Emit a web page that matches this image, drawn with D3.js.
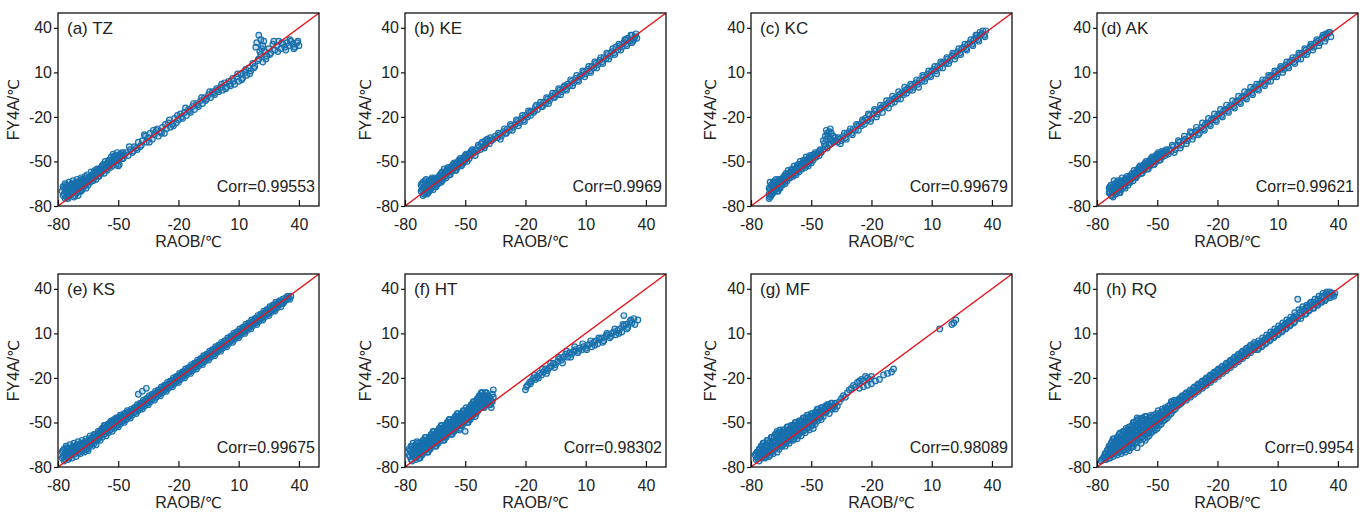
<!DOCTYPE html>
<html>
<head>
<meta charset="utf-8">
<script src="https://cdn.jsdelivr.net/npm/d3@7"></script>
<style>
  body { margin: 0; background: #fff; }
  svg { display: block; font-family: "Liberation Sans", Arial, sans-serif; }
</style>
</head>
<body>
<svg width="1368" height="514"></svg>
<script>
// ---- data: [RAOB, FY4A] in degC ----
var tickValues = [-80, -50, -20, 10, 40];
var axisDomain = [-80, 50];
var panelLabels = ["(a) TZ", "(b) KE", "(c) KC", "(d) AK", "(e) KS", "(f) HT", "(g) MF", "(h) RQ"];
var corrLabels = ["Corr=0.99553", "Corr=0.9969", "Corr=0.99679", "Corr=0.99621",
                  "Corr=0.99675", "Corr=0.98302", "Corr=0.98089", "Corr=0.9954"];

var ptsTZ = [[-78,-70],[-77,-72],[-77,-68],[-76,-74],[-76,-70],[-76,-66],[-75,-72],[-75,-68],[-75,-75],[-74,-70],[-74,-66],[-74,-73],[-73,-68],[-73,-71],[-73,-65],[-72,-74],[-72,-69],[-72,-66],[-71,-71],[-71,-67],[-71,-64],[-70,-69],[-70,-73],[-70,-65],[-69,-67],[-69,-70],[-69,-63],[-68,-65],[-68,-69],[-68,-62],[-67,-66],[-67,-63],[-66,-68],[-66,-64],[-66,-61],[-65,-62],[-65,-66],[-64,-60],[-64,-64],[-63,-62],[-63,-59],[-62,-61],[-62,-57],[-61,-59],[-61,-62],[-60,-56],[-60,-60],[-59,-58],[-59,-55],[-58,-56],[-58,-53],[-57,-55],[-57,-58],[-56,-52],[-56,-55],[-55,-53],[-55,-50],[-54,-54],[-54,-51],[-53,-49],[-53,-53],[-52,-50],[-52,-47],[-51,-52],[-51,-48],[-50,-49],[-50,-46],[-50,-53],[-49,-47],[-49,-45],[-48,-48],[-48,-44],[-47,-46],
  [-46,-44],[-45,-46],[-44,-42],[-43,-44],[-42,-40],[-41,-41],[-40,-37],[-39,-40],[-38,-36],[-37,-32],[-36,-37],[-35,-34],[-34,-31],[-33,-35],[-32,-32],[-31,-29],[-30,-33],[-29,-30],[-28,-27],[-27,-31],[-26,-28],[-25,-24],[-24,-27],[-23,-25],[-22,-21],[-21,-24],[-20,-22],[-19,-18],[-18,-21],[-17,-17],[-16,-19],[-15,-15],[-14,-17],[-13,-13],[-12,-15],[-11,-11],[-10,-13],[-9,-9],[-8,-11],[-7,-7],[-6,-8],[-5,-5],[-4,-7],[-3,-3],[-2,-5],[-1,-1],[0,-3],[1,0],[2,-2],[3,3],[4,0],[5,4],[6,1],[7,6],[8,2],[9,7],[10,4],[11,9],[12,6],[13,10],[14,8],[15,13],[16,11],[17,16],[18,14],[19,30],[20,35],[21,32],[22,28],[20,19],[21,22],[22,17],[23,24],[24,21],[25,26],[26,23],[27,29],[28,25],[29,28],[30,31],[31,26],[32,29],[33,27],[34,30],[35,28],[36,31],[37,29],[38,27],[39,30],[40,28]];
var ptsTZb = [[-77.5,-67],[-77.5,-73],[-76.5,-69],[-76.5,-65],[-76.5,-75],[-75.5,-67],[-75.5,-71],[-74.5,-64],[-74.5,-69],[-74.5,-74],[-73.5,-66],[-73.5,-72],[-72.5,-63],[-72.5,-67],[-72.5,-70],[-71.5,-65],[-71.5,-69],[-71.5,-73],[-70.5,-62],[-70.5,-67],[-70.5,-71],[-69.5,-64],[-69.5,-68],[-68.5,-61],[-68.5,-66],[-68.5,-70],[-67.5,-62],[-67.5,-68],[-66.5,-60],[-66.5,-63],[-66.5,-66],[-65.5,-59],[-65.5,-64],[-64.5,-61],[-64.5,-63],[-63.5,-57],[-63.5,-61],[-62.5,-59],[-62.5,-63],[-61.5,-56],[-61.5,-60],[-60.5,-58],[-60.5,-55],[-59.5,-56],[-59.5,-60],[-58.5,-54],[-58.5,-58],[-57.5,-52],[-57.5,-56],[-56.5,-54],[-56.5,-50],[-55.5,-52],[-55.5,-56],[-54.5,-49],[-54.5,-53],[-53.5,-51],[-53.5,-47],[-52.5,-49],[-52.5,-45],[-51.5,-50],[-51.5,-46],[-50.5,-47],[-50.5,-44],[-49.5,-48],[-49.5,-52],[-48.5,-46],[-47.5,-44],[-47.5,-48],
  [-44.5,-40],[-42.5,-43],[-40.5,-42],[-38.5,-39],[-36.5,-33],[-34.5,-37],[-32.5,-29],[-30.5,-28],[-28.5,-31],[-26.5,-25],[-24.5,-22],[-22.5,-26],[-20.5,-19],[-18.5,-20],[-16.5,-14],[-14.5,-16],[-12.5,-11],[-10.5,-12],[-8.5,-7],[-6.5,-9],[-4.5,-3],[-2.5,-4],[-0.5,-2],[1.5,2],[3.5,-1],[5.5,2],[7.5,4],[9.5,9],[11.5,5],[13.5,12],[15.5,9],[17.5,13],[19.5,18],[21.5,26],[23.5,19],[25.5,22],[27.5,31],[29.5,24],[31.5,30],[33.5,25],[35.5,32],[37.5,26],[39.5,31],[18.5,27],[20.5,24],[22.5,31]];

var ptsKE = [[-72,-70],[-72,-66],[-71,-73],[-71,-68],[-71,-64],[-70,-71],[-70,-67],[-70,-63],[-69,-69],[-69,-65],[-69,-72],[-68,-67],[-68,-63],[-68,-70],[-67,-65],[-67,-68],[-67,-62],[-66,-66],[-66,-63],[-66,-69],[-65,-64],[-65,-61],[-65,-67],[-64,-62],[-64,-65],[-63,-60],[-63,-63],[-62,-61],[-62,-58],[-62,-64],[-61,-59],[-61,-62],[-60,-57],[-60,-60],[-59,-58],[-59,-55],[-58,-56],[-58,-59],[-57,-54],[-57,-57],[-56,-55],[-56,-52],[-55,-53],[-55,-56],[-54,-51],[-54,-54],[-53,-52],[-53,-49],[-52,-50],[-52,-53],[-51,-48],[-51,-51],[-50,-49],[-50,-46],[-49,-47],[-49,-50],[-48,-45],[-48,-48],[-47,-46],[-47,-43],[-46,-44],[-45,-42],[-45,-46],[-44,-43],[-43,-40],[-42,-38],[-41,-40],[-40,-36],[-40,-39],[-39,-35],[-38,-38],[-37,-36],[-36,-35],[-35,-33],
  [-34,-34],[-33,-32],[-32,-33],[-31,-30],[-30,-31],[-29,-28],[-28,-29],[-27,-26],[-26,-27],[-25,-25],[-24,-23],[-23,-24],[-22,-21],[-21,-22],[-20,-19],[-19,-20],[-18,-17],[-17,-16],[-16,-17],[-15,-13],[-14,-15],[-13,-12],[-12,-13],[-11,-10],[-10,-11],[-9,-8],[-8,-9],[-7,-6],[-6,-7],[-5,-4],[-4,-5],[-3,-2],[-2,-3],[-1,0],[0,-1],[1,2],[2,1],[3,4],[4,3],[5,6],[6,5],[7,7],[8,8],[9,10],[10,9],[11,12],[12,11],[13,14],[14,13],[15,16],[16,15],[17,18],[18,17],[19,20],[20,19],[21,22],[22,21],[23,24],[24,23],[25,27],[26,25],[27,28],[28,27],[29,30],[30,29],[31,33],[32,31],[33,35],[34,32],[35,36],[33,30],[30,32]];
var ptsKEb = [[-71.5,-69],[-71.5,-65],[-70.5,-72],[-70.5,-68],[-69.5,-66],[-69.5,-62],[-68.5,-71],[-68.5,-65],[-67.5,-69],[-67.5,-63],[-66.5,-67],[-66.5,-61],[-65.5,-66],[-65.5,-62],[-64.5,-63],[-64.5,-67],[-63.5,-61],[-63.5,-65],[-62.5,-59],[-62.5,-62],[-61.5,-57],[-61.5,-63],[-60.5,-59],[-60.5,-55],[-59.5,-57],[-59.5,-61],[-58.5,-54],[-58.5,-57],[-57.5,-55],[-57.5,-59],[-56.5,-53],[-56.5,-56],[-55.5,-51],[-55.5,-54],[-54.5,-52],[-54.5,-56],[-53.5,-50],[-53.5,-53],[-52.5,-48],[-52.5,-51],[-51.5,-49],[-51.5,-52],[-50.5,-47],[-50.5,-50],[-49.5,-45],[-49.5,-48],[-48.5,-46],[-47.5,-44],[-46.5,-42],[-45.5,-44],[-43.5,-39],[-42.5,-42],[-41.5,-37],[-40.5,-41],[-39.5,-38],[-38.5,-36],[-37.5,-34],
  [-33.5,-31],[-32.5,-35],[-30.5,-28],[-29.5,-31],[-27.5,-25],[-26.5,-29],[-24.5,-22],[-23.5,-26],[-21.5,-19],[-20.5,-23],[-18.5,-16],[-17.5,-19],[-15.5,-16],[-14.5,-12],[-12.5,-10],[-11.5,-13],[-9.5,-7],[-8.5,-11],[-6.5,-4],[-5.5,-7],[-3.5,-1],[-2.5,-5],[-0.5,1],[0.5,-2],[2.5,5],[3.5,1],[5.5,8],[6.5,4],[8.5,11],[9.5,7],[11.5,14],[12.5,10],[14.5,17],[15.5,13],[17.5,20],[18.5,16],[20.5,23],[21.5,19],[23.5,26],[24.5,22],[26.5,29],[27.5,25],[29.5,32],[30.5,28],[32.5,35],[33.5,31],[34.5,34],[35.5,33]];

var ptsKC = [[-71,-72],[-71,-68],[-71,-75],[-70,-70],[-70,-66],[-70,-73],[-69,-68],[-69,-64],[-69,-71],[-68,-66],[-68,-69],[-68,-63],[-67,-67],[-67,-64],[-67,-70],[-66,-65],[-66,-62],[-66,-68],[-65,-63],[-65,-66],[-64,-61],[-64,-64],[-63,-62],[-63,-59],[-63,-65],[-62,-60],[-62,-63],[-61,-58],[-61,-61],[-60,-59],[-60,-56],[-59,-57],[-59,-60],[-58,-55],[-58,-58],[-57,-56],[-57,-53],[-56,-54],[-56,-57],[-55,-52],[-55,-55],[-54,-53],[-54,-50],[-53,-51],[-53,-54],[-52,-49],[-52,-52],[-51,-50],[-51,-47],[-50,-48],[-50,-51],[-49,-46],[-49,-49],[-48,-47],[-48,-44],[-47,-45],[-46,-43],[-46,-46],[-45,-44],
  [-44,-36],[-43,-33],[-42,-31],[-41,-30],[-40,-31],[-39,-33],[-38,-34],[-44,-42],[-43,-40],[-42,-41],[-41,-39],[-40,-38],[-39,-37],[-38,-36],
  [-37,-37],[-36,-35],[-35,-36],[-34,-33],[-33,-34],[-32,-31],[-31,-30],[-30,-31],[-29,-28],[-28,-29],[-27,-26],[-26,-25],[-25,-26],[-24,-23],[-23,-21],[-22,-22],[-21,-19],[-20,-21],[-19,-18],[-18,-16],[-17,-18],[-16,-15],[-15,-14],[-14,-12],[-13,-13],[-12,-11],[-11,-9],[-10,-11],[-9,-8],[-8,-7],[-7,-8],[-6,-5],[-5,-4],[-4,-5],[-3,-2],[-2,-1],[-1,-2],[0,1],[1,0],[2,3],[3,2],[4,5],[5,4],[6,7],[7,6],[8,9],[9,8],[10,11],[11,12],[12,11],[13,14],[14,13],[15,16],[16,17],[17,16],[18,19],[19,18],[20,21],[21,22],[22,21],[23,24],[24,23],[25,26],[26,27],[27,26],[28,29],[29,30],[30,29],[31,32],[32,33],[33,32],[34,35],[35,36],[36,35],[37,38],[34,37],[32,35]];
var ptsKCb = [[-70.5,-74],[-70.5,-69],[-70.5,-64],[-69.5,-72],[-69.5,-67],[-68.5,-70],[-68.5,-64],[-67.5,-68],[-67.5,-62],[-66.5,-66],[-66.5,-70],[-65.5,-64],[-65.5,-68],[-64.5,-62],[-64.5,-66],[-63.5,-60],[-63.5,-64],[-62.5,-58],[-62.5,-62],[-61.5,-60],[-61.5,-56],[-60.5,-58],[-60.5,-61],[-59.5,-55],[-59.5,-59],[-58.5,-57],[-58.5,-53],[-57.5,-55],[-57.5,-59],[-56.5,-52],[-56.5,-56],[-55.5,-54],[-55.5,-50],[-54.5,-52],[-54.5,-55],[-53.5,-49],[-53.5,-52],[-52.5,-51],[-52.5,-47],[-51.5,-49],[-51.5,-53],[-50.5,-46],[-50.5,-50],[-49.5,-48],[-48.5,-45],[-47.5,-47],[-46.5,-44],[-45.5,-42],[-43.5,-38],[-42.5,-35],[-41.5,-33],[-40.5,-35],[-39.5,-36],[-42.5,-29],[-40.5,-28],
  [-36.5,-34],[-35.5,-38],[-33.5,-31],[-32.5,-35],[-30.5,-28],[-29.5,-32],[-27.5,-25],[-26.5,-29],[-24.5,-22],[-23.5,-25],[-21.5,-18],[-20.5,-23],[-18.5,-15],[-17.5,-20],[-15.5,-12],[-14.5,-17],[-12.5,-9],[-11.5,-14],[-9.5,-6],[-8.5,-10],[-6.5,-3],[-5.5,-8],[-3.5,0],[-2.5,-4],[-0.5,2],[0.5,-2],[2.5,5],[3.5,0],[5.5,8],[6.5,4],[8.5,11],[9.5,7],[11.5,14],[12.5,9],[14.5,17],[15.5,13],[17.5,20],[18.5,16],[20.5,23],[21.5,19],[23.5,26],[24.5,22],[26.5,29],[27.5,25],[29.5,32],[30.5,28],[32.5,35],[33.5,31],[35.5,38],[36.5,34]];

var ptsAK = [[-74,-71],[-74,-68],[-73,-73],[-73,-69],[-73,-66],[-72,-71],[-72,-67],[-72,-74],[-71,-69],[-71,-65],[-71,-72],[-70,-67],[-70,-70],[-70,-64],[-69,-68],[-69,-65],[-69,-71],[-68,-66],[-68,-63],[-68,-69],[-67,-64],[-67,-67],[-66,-65],[-66,-62],[-66,-68],[-65,-63],[-65,-60],[-64,-64],[-64,-61],[-63,-62],[-63,-59],[-62,-60],[-62,-63],[-61,-58],[-61,-61],[-60,-59],[-60,-56],[-59,-57],[-59,-54],[-58,-58],[-58,-55],[-57,-56],[-57,-53],[-56,-54],[-56,-51],[-55,-55],[-55,-52],[-54,-53],[-54,-50],[-53,-51],[-53,-48],[-52,-52],[-52,-49],[-51,-50],[-51,-47],[-50,-48],[-50,-45],[-49,-49],[-49,-46],[-48,-47],[-48,-44],[-47,-45],[-46,-46],[-46,-43],[-45,-44],[-44,-42],
  [-43,-43],[-42,-40],[-41,-42],[-40,-39],[-39,-37],[-38,-39],[-37,-36],[-36,-35],[-35,-36],[-34,-33],[-33,-31],[-32,-33],[-31,-30],[-30,-29],[-29,-31],[-28,-27],[-27,-28],[-26,-25],[-25,-24],[-24,-25],[-23,-22],[-22,-21],[-21,-22],[-20,-19],[-19,-18],[-18,-19],[-17,-16],[-16,-15],[-15,-16],[-14,-13],[-13,-12],[-12,-13],[-11,-10],[-10,-9],[-9,-10],[-8,-7],[-7,-6],[-6,-7],[-5,-4],[-4,-3],[-3,-4],[-2,-1],[-1,0],[0,-1],[1,2],[2,3],[3,2],[4,5],[5,4],[6,7],[7,8],[8,7],[9,10],[10,9],[11,12],[12,13],[13,12],[14,15],[15,14],[16,17],[17,18],[18,17],[19,20],[20,19],[21,22],[22,23],[23,22],[24,25],[25,24],[26,27],[27,28],[28,27],[29,30],[30,31],[31,30],[32,33],[33,34],[34,33],[35,36],[36,37],[34,36]];
var ptsAKb = [[-73.5,-71],[-73.5,-67],[-72.5,-73],[-72.5,-69],[-71.5,-67],[-71.5,-63],[-70.5,-72],[-70.5,-66],[-69.5,-69],[-69.5,-63],[-68.5,-67],[-68.5,-71],[-67.5,-65],[-67.5,-61],[-66.5,-67],[-66.5,-63],[-65.5,-65],[-65.5,-61],[-64.5,-62],[-64.5,-66],[-63.5,-60],[-63.5,-64],[-62.5,-58],[-62.5,-61],[-61.5,-60],[-61.5,-56],[-60.5,-57],[-60.5,-61],[-59.5,-55],[-59.5,-59],[-58.5,-53],[-58.5,-56],[-57.5,-54],[-57.5,-58],[-56.5,-52],[-56.5,-56],[-55.5,-50],[-55.5,-53],[-54.5,-51],[-54.5,-55],[-53.5,-49],[-53.5,-53],[-52.5,-47],[-52.5,-50],[-51.5,-48],[-51.5,-52],[-50.5,-46],[-50.5,-50],[-49.5,-44],[-49.5,-47],[-48.5,-45],[-48.5,-49],[-47.5,-43],[-47.5,-47],[-46.5,-44],[-45.5,-42],[-44.5,-45],
  [-42.5,-39],[-41.5,-44],[-39.5,-36],[-38.5,-41],[-36.5,-33],[-35.5,-38],[-33.5,-30],[-32.5,-35],[-30.5,-27],[-29.5,-32],[-27.5,-24],[-26.5,-29],[-24.5,-21],[-23.5,-26],[-21.5,-18],[-20.5,-23],[-18.5,-15],[-17.5,-20],[-15.5,-12],[-14.5,-17],[-12.5,-9],[-11.5,-14],[-9.5,-6],[-8.5,-11],[-6.5,-3],[-5.5,-8],[-3.5,0],[-2.5,-5],[-0.5,2],[0.5,-2],[2.5,5],[3.5,1],[5.5,8],[6.5,4],[8.5,11],[9.5,7],[11.5,14],[12.5,10],[14.5,17],[15.5,13],[17.5,20],[18.5,16],[20.5,23],[21.5,19],[23.5,26],[24.5,22],[26.5,29],[27.5,25],[29.5,32],[30.5,28],[32.5,35],[33.5,31],[35.5,37],[36.5,34]];

var ptsKS = [[-78,-74],[-78,-70],[-77,-76],[-77,-72],[-77,-68],[-76,-73],[-76,-70],[-76,-66],[-75,-75],[-75,-71],[-75,-68],[-74,-72],[-74,-69],[-74,-65],[-73,-74],[-73,-70],[-73,-67],[-72,-71],[-72,-68],[-72,-64],[-71,-73],[-71,-69],[-71,-66],[-70,-70],[-70,-67],[-70,-63],[-69,-71],[-69,-68],[-69,-65],[-68,-69],[-68,-66],[-68,-62],[-67,-70],[-67,-67],[-67,-64],[-66,-68],[-66,-65],[-66,-61],[-65,-66],[-65,-63],[-65,-69],[-64,-65],[-64,-62],[-64,-59],[-63,-66],[-63,-63],[-63,-60],[-62,-64],[-62,-61],[-62,-58],[-61,-62],[-61,-59],[-61,-65],[-60,-61],[-60,-58],[-60,-56],[-59,-62],[-59,-59],[-59,-56],[-58,-60],[-58,-57],[-58,-54],[-57,-58],[-57,-55],[-57,-52],[-56,-59],[-56,-56],[-56,-53],[-55,-57],[-55,-54],[-55,-51],[-54,-55],[-54,-52],[-54,-50],[-53,-56],[-53,-53],[-53,-50],[-52,-54],[-52,-51],[-52,-48],[-51,-52],[-51,-49],[-51,-47],[-50,-53],[-50,-50],[-50,-47],[-49,-51],[-49,-48],[-49,-45],[-48,-49],[-48,-46],[-47,-50],[-47,-47],[-47,-44],[-46,-48],[-46,-45],[-45,-46],[-45,-43],[-44,-47],[-44,-44],[-43,-45],[-43,-42],[-42,-43],[-42,-40],[-41,-44],[-41,-41],[-40,-42],[-40,-39],[-40,-31],[-38,-29],[-36,-27],[-39,-40],[-39,-37],[-38,-41],[-38,-38],[-37,-39],[-37,-36],[-36,-37],[-36,-34],[-35,-38],[-35,-35],[-34,-36],[-34,-33],[-33,-34],[-33,-31],[-32,-35],[-32,-32],[-31,-33],[-31,-30],[-30,-31],[-30,-28],[-29,-32],[-29,-29],[-28,-30],[-28,-27],[-27,-28],[-27,-25],[-26,-29],[-26,-26],[-25,-27],[-25,-24],[-24,-25],[-24,-22],[-23,-26],[-23,-23],[-22,-24],[-22,-21],[-21,-22],[-21,-19],[-20,-23],[-20,-20],[-19,-21],[-19,-18],[-18,-19],[-18,-16],[-17,-20],[-17,-17],[-16,-18],[-16,-15],[-15,-16],[-15,-13],[-14,-17],[-14,-14],[-13,-15],[-13,-12],[-12,-13],[-12,-10],[-11,-14],[-11,-11],[-10,-12],[-10,-9],[-9,-10],[-9,-7],[-8,-11],[-8,-8],[-7,-9],[-7,-6],[-6,-7],[-6,-4],[-5,-8],[-5,-5],[-4,-6],[-4,-3],[-3,-4],[-3,-1],[-2,-5],[-2,-2],[-1,-3],[-1,0],[0,-1],[0,2],[1,-2],[1,1],[2,0],[2,3],[3,2],[3,5],[4,1],[4,4],[5,3],[5,6],[6,5],[6,8],[7,4],[7,7],[8,6],[8,9],[9,8],[9,11],[10,7],[10,10],[11,9],[11,12],[12,11],[12,14],[13,10],[13,13],[14,12],[14,15],[15,14],[15,17],[16,13],[16,16],[17,15],[17,18],[18,17],[18,20],[19,16],[19,19],[20,18],[20,21],[21,20],[21,23],[22,19],[22,22],[23,21],[23,24],[24,23],[24,26],[25,22],[25,25],[26,24],[26,27],[27,26],[27,29],[28,25],[28,28],[29,27],[29,30],[30,29],[30,31],[31,28],[31,31],[32,30],[32,33],[33,32],[34,33],[35,34],[36,35]];
var ptsKSb = [[-77.5,-73],[-77.5,-69],[-76.5,-75],[-76.5,-71],[-75.5,-73],[-75.5,-67],[-74.5,-70],[-74.5,-74],[-73.5,-68],[-73.5,-72],[-72.5,-66],[-72.5,-70],[-71.5,-68],[-71.5,-71],[-70.5,-65],[-70.5,-69],[-69.5,-67],[-69.5,-70],[-68.5,-64],[-68.5,-68],[-67.5,-66],[-67.5,-69],[-66.5,-63],[-66.5,-67],[-65.5,-64],[-65.5,-68],[-64.5,-61],[-64.5,-64],[-63.5,-62],[-63.5,-65],[-62.5,-60],[-62.5,-63],[-61.5,-58],[-61.5,-61],[-60.5,-59],[-60.5,-62],[-59.5,-57],[-59.5,-60],[-58.5,-55],[-58.5,-58],[-57.5,-54],[-57.5,-57],[-56.5,-55],[-56.5,-52],[-55.5,-53],[-55.5,-56],[-54.5,-51],[-54.5,-54],[-53.5,-52],[-53.5,-49],[-52.5,-50],[-52.5,-53],[-51.5,-48],[-51.5,-51],[-50.5,-49],[-50.5,-52],[-49.5,-47],[-49.5,-50],[-48.5,-45],[-48.5,-48],[-47.5,-46],[-47.5,-49],[-46.5,-44],[-46.5,-47],[-45.5,-45],[-45.5,-42],[-44.5,-43],[-44.5,-46],[-43.5,-41],[-43.5,-44],[-42.5,-42],[-41.5,-40],[-41.5,-43],[-40.5,-38],[-40.5,-41],[-39.5,-39],[-38.5,-37],[-38.5,-40],[-37.5,-35],[-37.5,-38],[-36.5,-36],[-35.5,-34],[-35.5,-37],[-34.5,-32],[-34.5,-35],[-33.5,-33],[-32.5,-31],[-32.5,-34],[-31.5,-29],[-31.5,-32],[-30.5,-30],[-29.5,-28],[-29.5,-31],[-28.5,-26],[-28.5,-29],[-27.5,-27],[-26.5,-25],[-26.5,-28],[-25.5,-23],[-25.5,-26],[-24.5,-24],[-23.5,-22],[-23.5,-25],[-22.5,-20],[-22.5,-23],[-21.5,-21],[-20.5,-19],[-20.5,-22],[-19.5,-17],[-19.5,-20],[-18.5,-18],[-17.5,-16],[-17.5,-19],[-16.5,-14],[-16.5,-17],[-15.5,-15],[-14.5,-13],[-14.5,-16],[-13.5,-11],[-13.5,-14],[-12.5,-12],[-11.5,-10],[-11.5,-13],[-10.5,-8],[-10.5,-11],[-9.5,-9],[-8.5,-7],[-8.5,-10],[-7.5,-5],[-7.5,-8],[-6.5,-6],[-5.5,-4],[-5.5,-7],[-4.5,-2],[-4.5,-5],[-3.5,-3],[-2.5,-1],[-2.5,-4],[-1.5,1],[-1.5,-2],[-0.5,0],[0.5,2],[0.5,-1],[1.5,4],[1.5,1],[2.5,2],[3.5,5],[3.5,2],[4.5,7],[4.5,4],[5.5,5],[6.5,8],[6.5,5],[7.5,10],[7.5,7],[8.5,8],[9.5,11],[9.5,8],[10.5,13],[10.5,10],[11.5,11],[12.5,14],[12.5,11],[13.5,16],[13.5,13],[14.5,14],[15.5,17],[15.5,14],[16.5,19],[16.5,16],[17.5,17],[18.5,20],[18.5,17],[19.5,22],[19.5,19],[20.5,20],[21.5,23],[21.5,20],[22.5,25],[22.5,22],[23.5,23],[24.5,26],[24.5,23],[25.5,28],[25.5,25],[26.5,26],[27.5,29],[27.5,26],[28.5,31],[28.5,28],[29.5,29],[30.5,32],[31.5,30],[32.5,31],[33.5,34],[34.5,35],[35.5,33]];

var ptsHT = [[-78,-68],[-78,-72],[-77,-66],[-77,-70],[-77,-75],[-76,-68],[-76,-72],[-76,-64],[-75,-70],[-75,-74],[-75,-66],[-74,-68],[-74,-72],[-74,-63],[-73,-66],[-73,-70],[-73,-74],[-72,-64],[-72,-68],[-72,-72],[-71,-62],[-71,-66],[-71,-70],[-70,-64],[-70,-68],[-70,-60],[-69,-62],[-69,-66],[-69,-70],[-68,-60],[-68,-64],[-68,-68],[-67,-58],[-67,-62],[-67,-66],[-66,-60],[-66,-64],[-66,-56],[-65,-58],[-65,-62],[-65,-66],[-64,-56],[-64,-60],[-64,-64],[-63,-54],[-63,-58],[-63,-62],[-62,-56],[-62,-60],[-62,-52],[-61,-54],[-61,-58],[-61,-62],[-60,-52],[-60,-56],[-60,-60],[-59,-50],[-59,-54],[-59,-58],[-58,-52],[-58,-56],[-58,-48],[-57,-50],[-57,-54],[-57,-58],[-56,-48],[-56,-52],[-56,-56],[-55,-46],[-55,-50],[-55,-54],[-54,-48],[-54,-52],[-54,-44],[-53,-46],[-53,-50],[-53,-55],[-52,-44],[-52,-48],[-52,-52],[-51,-42],[-51,-46],[-51,-50],[-50,-44],[-50,-48],[-50,-56],[-49,-42],[-49,-46],[-49,-50],[-48,-40],[-48,-44],[-48,-48],[-47,-38],[-47,-42],[-47,-46],[-46,-36],[-46,-40],[-46,-44],[-45,-38],[-45,-42],[-45,-46],[-44,-34],[-44,-38],[-44,-42],[-43,-32],[-43,-36],[-43,-40],[-42,-30],[-42,-34],[-42,-38],[-41,-32],[-41,-36],[-41,-40],[-40,-30],[-40,-34],[-40,-38],[-39,-32],[-39,-36],[-38,-34],[-38,-38],[-37,-36],[-37,-40],[-36,-33],[-36,-28],
  [-20,-28],[-19,-25],[-18,-23],[-17,-22],[-16,-20],[-15,-21],[-14,-19],[-13,-17],[-12,-18],[-11,-16],[-10,-14],[-9,-15],[-8,-13],[-7,-12],[-6,-10],[-5,-11],[-4,-9],[-3,-7],[-2,-8],[-1,-6],[0,-4],[1,-6],[2,-3],[3,-4],[4,-2],[5,-1],[6,-3],[7,0],[8,-1],[9,1],[10,0],[11,2],[12,3],[13,1],[14,4],[15,5],[16,3],[17,6],[18,7],[19,5],[20,8],[21,9],[22,7],[23,10],[24,11],[25,9],[26,12],[27,13],[28,11],[29,15],[30,16],[31,14],[29,22],[32,18],[33,17],[34,20],[36,19]];
var ptsHTb = [[-77.5,-69],[-77.5,-73],[-76.5,-66],[-76.5,-71],[-76.5,-76],[-75.5,-68],[-75.5,-72],[-74.5,-65],[-74.5,-70],[-74.5,-75],[-73.5,-64],[-73.5,-68],[-73.5,-72],[-72.5,-66],[-72.5,-70],[-72.5,-74],[-71.5,-64],[-71.5,-68],[-71.5,-72],[-70.5,-62],[-70.5,-66],[-70.5,-70],[-69.5,-60],[-69.5,-64],[-69.5,-68],[-68.5,-62],[-68.5,-66],[-68.5,-70],[-67.5,-60],[-67.5,-64],[-67.5,-68],[-66.5,-58],[-66.5,-62],[-66.5,-66],[-65.5,-56],[-65.5,-60],[-65.5,-64],[-64.5,-58],[-64.5,-62],[-64.5,-66],[-63.5,-56],[-63.5,-60],[-63.5,-64],[-62.5,-54],[-62.5,-58],[-62.5,-62],[-61.5,-52],[-61.5,-56],[-61.5,-60],[-60.5,-54],[-60.5,-58],[-60.5,-62],[-59.5,-52],[-59.5,-56],[-59.5,-60],[-58.5,-50],[-58.5,-54],[-58.5,-58],[-57.5,-48],[-57.5,-52],[-57.5,-56],[-56.5,-50],[-56.5,-54],[-56.5,-58],[-55.5,-48],[-55.5,-52],[-55.5,-56],[-54.5,-46],[-54.5,-50],[-54.5,-54],[-53.5,-44],[-53.5,-48],[-53.5,-52],[-52.5,-46],[-52.5,-50],[-52.5,-54],[-51.5,-44],[-51.5,-48],[-51.5,-52],[-50.5,-42],[-50.5,-46],[-50.5,-50],[-49.5,-40],[-49.5,-44],[-49.5,-48],[-48.5,-42],[-48.5,-46],[-48.5,-50],[-47.5,-40],[-47.5,-44],[-47.5,-48],[-46.5,-38],[-46.5,-42],[-46.5,-46],[-45.5,-36],[-45.5,-40],[-45.5,-44],[-44.5,-36],[-44.5,-40],[-44.5,-44],[-43.5,-34],[-43.5,-38],[-43.5,-42],[-42.5,-32],[-42.5,-36],[-42.5,-40],[-41.5,-30],[-41.5,-34],[-41.5,-38],[-40.5,-32],[-40.5,-36],[-40.5,-40],[-39.5,-30],[-39.5,-34],[-39.5,-38],[-38.5,-32],[-38.5,-36],[-37.5,-34],[-37.5,-38],[-36.5,-31],[-36.5,-36],
  [-19.5,-26],[-17.5,-24],[-15.5,-18],[-13.5,-20],[-11.5,-14],[-9.5,-17],[-7.5,-10],[-5.5,-13],[-3.5,-6],[-1.5,-10],[0.5,-2],[2.5,-6],[4.5,1],[6.5,-2],[8.5,3],[10.5,-1],[12.5,5],[14.5,2],[16.5,7],[18.5,4],[20.5,10],[22.5,8],[24.5,13],[26.5,10],[28.5,16],[30.5,13],[32.5,19],[34.5,16]];

var ptsMF = [[-78,-72],[-77,-70],[-77,-74],[-76,-68],[-76,-72],[-76,-76],[-75,-66],[-75,-70],[-75,-74],[-74,-68],[-74,-72],[-74,-64],[-73,-66],[-73,-70],[-73,-74],[-72,-62],[-72,-67],[-72,-71],[-71,-64],[-71,-69],[-71,-73],[-70,-60],[-70,-65],[-70,-70],[-69,-63],[-69,-67],[-69,-71],[-68,-58],[-68,-62],[-68,-66],[-67,-56],[-67,-61],[-67,-65],[-67,-70],[-66,-59],[-66,-63],[-66,-68],[-65,-57],[-65,-61],[-65,-66],[-64,-55],[-64,-59],[-64,-64],[-63,-57],[-63,-62],[-63,-66],[-62,-53],[-62,-58],[-62,-62],[-61,-55],[-61,-60],[-61,-64],[-60,-52],[-60,-56],[-60,-60],[-59,-54],[-59,-58],[-59,-62],[-58,-50],[-58,-55],[-58,-59],[-57,-52],[-57,-56],[-57,-61],[-56,-49],[-56,-53],[-56,-57],[-55,-51],[-55,-55],[-55,-59],[-54,-47],[-54,-52],[-54,-56],[-53,-49],[-53,-53],[-53,-57],[-52,-45],[-52,-50],[-52,-54],[-51,-47],[-51,-51],[-51,-55],[-50,-44],[-50,-48],[-50,-52],[-49,-46],[-49,-50],[-49,-54],[-48,-43],[-48,-47],[-48,-51],[-47,-41],[-47,-45],[-47,-49],[-46,-43],[-46,-47],[-45,-40],[-45,-44],[-45,-48],[-44,-42],[-44,-46],[-43,-39],[-43,-43],[-42,-38],[-42,-41],[-41,-40],[-41,-44],[-40,-37],[-40,-41],[-39,-39],[-38,-37],[-38,-41],[-37,-39],
  [-36,-36],[-35,-34],[-34,-32],[-33,-33],[-32,-30],[-31,-28],[-30,-27],[-29,-25],[-28,-26],[-27,-23],[-26,-22],[-25,-21],[-24,-22],[-23,-19],[-22,-20],[-21,-21],[-20,-19],[-26,-27],[-24,-26],[-22,-25],[-20,-24],[-18,-22],[-16,-21],[-14,-18],[-12,-17],[-10,-16],[-9,-14],[14,13],[21,17],[22,19],[20,16]];
var ptsMFb = [[-77.5,-71],[-77.5,-75],[-76.5,-70],[-76.5,-74],[-75.5,-68],[-75.5,-72],[-74.5,-66],[-74.5,-70],[-74.5,-74],[-73.5,-64],[-73.5,-68],[-73.5,-72],[-72.5,-65],[-72.5,-69],[-72.5,-73],[-71.5,-62],[-71.5,-66],[-71.5,-70],[-70.5,-63],[-70.5,-67],[-70.5,-72],[-69.5,-60],[-69.5,-65],[-69.5,-69],[-68.5,-60],[-68.5,-64],[-68.5,-68],[-67.5,-58],[-67.5,-63],[-67.5,-67],[-66.5,-57],[-66.5,-61],[-66.5,-66],[-65.5,-55],[-65.5,-59],[-65.5,-63],[-64.5,-57],[-64.5,-61],[-64.5,-66],[-63.5,-55],[-63.5,-59],[-63.5,-64],[-62.5,-56],[-62.5,-60],[-62.5,-64],[-61.5,-53],[-61.5,-57],[-61.5,-62],[-60.5,-54],[-60.5,-58],[-60.5,-62],[-59.5,-52],[-59.5,-56],[-59.5,-60],[-58.5,-52],[-58.5,-57],[-58.5,-61],[-57.5,-50],[-57.5,-54],[-57.5,-58],[-56.5,-51],[-56.5,-55],[-56.5,-59],[-55.5,-49],[-55.5,-53],[-55.5,-57],[-54.5,-49],[-54.5,-54],[-53.5,-47],[-53.5,-51],[-53.5,-55],[-52.5,-47],[-52.5,-52],[-51.5,-45],[-51.5,-49],[-51.5,-53],[-50.5,-46],[-50.5,-50],[-49.5,-44],[-49.5,-48],[-49.5,-52],[-48.5,-45],[-48.5,-49],[-47.5,-43],[-47.5,-47],[-46.5,-41],[-46.5,-45],[-45.5,-42],[-45.5,-46],[-44.5,-40],[-44.5,-44],[-43.5,-41],[-42.5,-40],[-42.5,-43],[-41.5,-38],[-40.5,-39],[-39.5,-37],[-39.5,-41],[-38.5,-39]];

var ptsRQ = [[-78,-76],[-77,-74],[-76,-75],[-76,-71],[-75,-73],[-75,-69],[-74,-74],[-74,-70],[-74,-66],[-73,-72],[-73,-68],[-73,-64],[-72,-73],[-72,-69],[-72,-65],[-72,-61],[-71,-71],[-71,-67],[-71,-63],[-70,-72],[-70,-68],[-70,-64],[-70,-60],[-69,-70],[-69,-66],[-69,-62],[-69,-58],[-68,-71],[-68,-67],[-68,-63],[-68,-59],[-67,-69],[-67,-65],[-67,-61],[-67,-56],[-66,-70],[-66,-66],[-66,-62],[-66,-58],[-65,-68],[-65,-64],[-65,-60],[-65,-55],[-64,-69],[-64,-65],[-64,-61],[-64,-57],[-64,-53],[-63,-67],[-63,-63],[-63,-59],[-63,-55],[-62,-66],[-62,-62],[-62,-58],[-62,-54],[-62,-50],[-61,-64],[-61,-60],[-61,-56],[-61,-52],[-60,-67],[-60,-63],[-60,-59],[-60,-55],[-60,-51],[-60,-47],[-59,-62],[-59,-58],[-59,-54],[-59,-50],[-58,-64],[-58,-60],[-58,-56],[-58,-52],[-58,-48],[-57,-61],[-57,-57],[-57,-53],[-57,-49],[-56,-62],[-56,-58],[-56,-54],[-56,-50],[-56,-46],[-55,-60],[-55,-56],[-55,-52],[-55,-48],[-54,-59],[-54,-55],[-54,-51],[-54,-47],[-53,-57],[-53,-53],[-53,-49],[-53,-45],[-52,-56],[-52,-52],[-52,-48],[-51,-55],[-51,-51],[-51,-47],[-50,-54],[-50,-50],[-50,-46],[-49,-52],[-49,-48],[-49,-44],[-48,-51],[-48,-47],[-48,-43],[-47,-49],[-47,-45],[-46,-48],[-46,-44],[-46,-40],[-45,-47],[-45,-43],[-44,-45],[-44,-41],[-43,-44],[-43,-40],[-43,-36],[-42,-42],[-42,-38],[-41,-41],[-41,-37],[-40,-39],[-40,-35],[-39,-38],[-39,-34],[-38,-37],[-38,-33],[-37,-35],[-36,-34],[-36,-31],[-35,-33],[-34,-32],[-34,-29],[-33,-31],[-32,-30],[-32,-27],[-31,-29],[-30,-28],[-30,-25],[-29,-27],[-28,-26],[-28,-23],[-27,-25],[-26,-24],[-26,-21],[-25,-23],[-24,-22],[-24,-19],[-23,-21],[-22,-20],[-22,-17],[-21,-19],[-20,-18],[-20,-15],[-19,-17],[-18,-16],[-18,-13],[-17,-15],[-16,-14],[-16,-11],[-15,-13],[-14,-12],[-14,-9],[-13,-11],[-12,-10],[-12,-7],[-11,-9],[-10,-8],[-10,-5],[-9,-7],[-8,-6],[-8,-3],[-7,-5],[-6,-4],[-6,-1],[-5,-3],[-4,-2],[-4,1],[-3,-1],[-2,0],[-2,3],[-1,1],[0,2],[0,-1],[1,3],[2,4],[2,1],[3,5],[4,6],[4,3],[5,7],[6,8],[6,5],[7,9],[8,10],[8,7],[9,11],[10,12],[10,9],[11,13],[12,14],[12,11],[13,15],[14,16],[14,13],[15,17],[16,18],[16,15],[17,19],[18,21],[18,17],[19,22],[20,20],[20,33],[21,24],[22,22],[22,26],[23,25],[24,27],[24,23],[25,28],[26,26],[26,30],[27,29],[28,31],[28,27],[29,30],[30,33],[30,29],[31,32],[32,35],[32,31],[33,34],[34,37],[34,33],[35,36],[36,38],[36,34],[37,37],[38,35]];
var ptsRQb = [[-77.5,-75],[-76.5,-73],[-75.5,-71],[-75.5,-75],[-74.5,-68],[-74.5,-72],[-73.5,-66],[-73.5,-70],[-73.5,-74],[-72.5,-63],[-72.5,-67],[-72.5,-71],[-71.5,-61],[-71.5,-65],[-71.5,-69],[-70.5,-62],[-70.5,-66],[-70.5,-70],[-69.5,-60],[-69.5,-64],[-69.5,-68],[-68.5,-57],[-68.5,-61],[-68.5,-65],[-68.5,-69],[-67.5,-59],[-67.5,-63],[-67.5,-67],[-66.5,-56],[-66.5,-60],[-66.5,-64],[-66.5,-68],[-65.5,-54],[-65.5,-58],[-65.5,-62],[-65.5,-66],[-64.5,-55],[-64.5,-59],[-64.5,-63],[-64.5,-67],[-63.5,-53],[-63.5,-57],[-63.5,-61],[-63.5,-65],[-62.5,-52],[-62.5,-56],[-62.5,-60],[-62.5,-64],[-61.5,-50],[-61.5,-54],[-61.5,-58],[-61.5,-62],[-60.5,-49],[-60.5,-53],[-60.5,-57],[-60.5,-61],[-59.5,-48],[-59.5,-52],[-59.5,-56],[-59.5,-60],[-58.5,-50],[-58.5,-54],[-58.5,-58],[-57.5,-47],[-57.5,-51],[-57.5,-55],[-57.5,-59],[-56.5,-48],[-56.5,-52],[-56.5,-56],[-55.5,-46],[-55.5,-50],[-55.5,-54],[-55.5,-58],[-54.5,-49],[-54.5,-53],[-54.5,-57],[-53.5,-47],[-53.5,-51],[-53.5,-55],[-52.5,-46],[-52.5,-50],[-52.5,-54],[-51.5,-45],[-51.5,-49],[-51.5,-53],[-50.5,-44],[-50.5,-48],[-50.5,-52],[-49.5,-42],[-49.5,-46],[-49.5,-50],[-48.5,-45],[-48.5,-49],[-47.5,-41],[-47.5,-43],[-47.5,-47],[-46.5,-42],[-46.5,-46],[-45.5,-41],[-45.5,-45],[-44.5,-39],[-44.5,-43],[-43.5,-38],[-43.5,-42],[-42.5,-36],[-42.5,-40],[-41.5,-35],[-41.5,-39],[-40.5,-37],[-39.5,-36],[-38.5,-35],[-37.5,-32],[-37.5,-36],[-36.5,-33],[-35.5,-30],[-35.5,-35],[-34.5,-31],[-33.5,-28],[-33.5,-33],[-32.5,-29],[-31.5,-26],[-31.5,-31],[-30.5,-27],[-29.5,-24],[-29.5,-29],[-28.5,-25],[-27.5,-22],[-27.5,-27],[-26.5,-23],[-25.5,-20],[-25.5,-25],[-24.5,-21],[-23.5,-18],[-23.5,-23],[-22.5,-19],[-21.5,-16],[-21.5,-21],[-20.5,-17],[-19.5,-14],[-19.5,-19],[-18.5,-15],[-17.5,-12],[-17.5,-17],[-16.5,-13],[-15.5,-10],[-15.5,-15],[-14.5,-11],[-13.5,-8],[-13.5,-13],[-12.5,-9],[-11.5,-6],[-11.5,-11],[-10.5,-7],[-9.5,-4],[-9.5,-9],[-8.5,-5],[-7.5,-2],[-7.5,-7],[-6.5,-3],[-5.5,0],[-5.5,-5],[-4.5,-1],[-3.5,2],[-3.5,-3],[-2.5,1],[-1.5,4],[-1.5,-1],[-0.5,3],[0.5,5],[0.5,0],[1.5,4],[2.5,7],[2.5,2],[3.5,6],[4.5,9],[4.5,4],[5.5,8],[6.5,11],[6.5,6],[7.5,10],[8.5,13],[8.5,8],[9.5,12],[10.5,15],[10.5,10],[11.5,14],[12.5,17],[12.5,12],[13.5,16],[14.5,19],[14.5,14],[15.5,18],[16.5,21],[16.5,16],[17.5,20],[18.5,24],[18.5,18],[19.5,21],[20.5,26],[21.5,20],[22.5,28],[23.5,23],[24.5,29],[25.5,25],[26.5,31],[27.5,27],[28.5,33],[29.5,29],[30.5,35],[31.5,31],[32.5,37],[33.5,32],[34.5,38],[35.5,35],[36.5,37],[37.5,36],[38.5,37]];

var panelPoints = [ptsTZ.concat(ptsTZb), ptsKE.concat(ptsKEb), ptsKC.concat(ptsKCb), ptsAK.concat(ptsAKb),
                   ptsKS.concat(ptsKSb), ptsHT.concat(ptsHTb), ptsMF.concat(ptsMFb), ptsRQ.concat(ptsRQb)];

// ---- layout ----
var colLeft = [58, 405, 751, 1097];
var rowTop = [13, 274];
var yTitleOffset = [45, 40, 41, 42];
var pw = 261, ph = 193;
var pointColor = "#1870ad";
var textColor = "#222";

var svg = d3.select("svg");

// title with a real degree-Celsius glyph
function unitTitle(sel, name) {
    sel.append("tspan").text(name + "/");
    sel.append("tspan").attr("font-family", "'DejaVu Sans', sans-serif")
        .attr("font-size", 15).text("℃");
}

panelPoints.forEach(function(pts, i) {
    var col = i % 4, row = Math.floor(i / 4);
    var left = colLeft[col], top = rowTop[row];

    var x = d3.scaleLinear().domain(axisDomain).range([0, pw]);
    var y = d3.scaleLinear().domain(axisDomain).range([ph, 0]);

    var g = svg.append("g").attr("transform", "translate(" + left + "," + top + ")");

    g.append("clipPath").attr("id", "clip" + i)
        .append("rect").attr("width", pw).attr("height", ph);

    // scatter: open circles, a faint fill so that overlaps build up like the original
    g.append("g").attr("clip-path", "url(#clip" + i + ")")
        .selectAll("circle")
        .data(pts)
        .enter().append("circle")
        .attr("cx", function(d) { return x(d[0]); })
        .attr("cy", function(d) { return y(d[1]); })
        .attr("r", 2.8)
        .attr("fill", pointColor)
        .attr("fill-opacity", 0.22)
        .attr("stroke", pointColor)
        .attr("stroke-width", 1.2);

    // 1:1 line
    g.append("path")
        .datum(axisDomain)
        .attr("d", d3.line().x(function(d) { return x(d); }).y(function(d) { return y(d); }))
        .attr("stroke", "#e8141c")
        .attr("stroke-width", 1.5)
        .attr("fill", "none");

    // axes (plain hyphen minus like the original)
    var fmt = function(d) { return String(d); };
    var xa = g.append("g")
        .attr("transform", "translate(0," + ph + ")")
        .call(d3.axisBottom(x).tickValues(tickValues).tickFormat(fmt).tickSizeInner(-6).tickSizeOuter(0).tickPadding(12.5));
    var ya = g.append("g")
        .call(d3.axisLeft(y).tickValues(tickValues).tickFormat(fmt).tickSizeInner(4).tickSizeOuter(0).tickPadding(2));
    [xa, ya].forEach(function(a) {
        a.select(".domain").remove();
        a.selectAll("line").attr("stroke", "#111").attr("stroke-width", 1.2);
        a.selectAll("text").attr("font-size", 16).attr("fill", textColor)
            .attr("font-family", "'Liberation Sans', Arial, sans-serif");
    });

    // frame
    g.append("rect")
        .attr("width", pw).attr("height", ph)
        .attr("fill", "none").attr("stroke", "#111").attr("stroke-width", 1.3);

    // titles
    g.append("text")
        .attr("x", pw / 2).attr("y", ph + 41)
        .attr("text-anchor", "middle")
        .attr("font-size", 16).attr("fill", textColor)
        .call(unitTitle, "RAOB");

    g.append("text")
        .attr("transform", "translate(" + (-yTitleOffset[col]) + "," + (ph / 2) + ") rotate(-90)")
        .attr("dy", "0.35em")
        .attr("text-anchor", "middle")
        .attr("font-size", 16).attr("fill", textColor)
        .call(unitTitle, "FY4A");

    g.append("text")
        .attr("x", i == 3 ? 4 : 9).attr("y", 21)
        .attr("font-size", 17).attr("fill", textColor)
        .text(panelLabels[i]);

    g.append("text")
        .attr("x", pw - 4).attr("y", ph - 14)
        .attr("text-anchor", "end")
        .attr("font-size", 16).attr("fill", textColor)
        .text(corrLabels[i]);
});
</script>
</body>
</html>
